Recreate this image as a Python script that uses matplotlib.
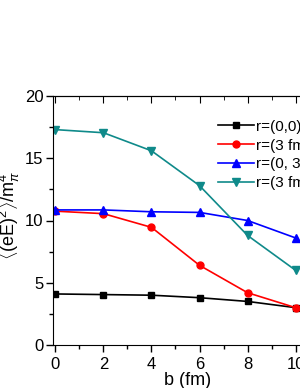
import matplotlib
matplotlib.use("Agg")
import matplotlib.pyplot as plt
from matplotlib.ticker import MultipleLocator

plt.rcParams['font.family'] = ['Liberation Sans', 'DejaVu Sans']
plt.rcParams['mathtext.fontset'] = 'custom'
plt.rcParams['mathtext.rm'] = 'Liberation Sans'
plt.rcParams['mathtext.it'] = 'Liberation Sans:italic'

b = [0, 2, 4, 6, 8, 10]
r00 = [4.1, 4.05, 4.0, 3.8, 3.5, 3.0]
r30 = [10.75, 10.55, 9.45, 6.4, 4.2, 3.0]
r03 = [10.85, 10.85, 10.7, 10.65, 10.0, 8.6]
r33 = [17.3, 17.05, 15.6, 12.8, 8.8, 6.0]
labels = ['r=(0,0)', 'r=(3 fm, 0)', 'r=(0, 3 fm)', 'r=(3 fm, 3 fm)']

fig = plt.figure(figsize=(3.0, 3.88), dpi=100)
ax = fig.add_axes([53 / 300, 43 / 388, 269 / 300, 249 / 388])

ms = 5
ax.plot(b, r00, '-s', color='black', ms=ms, lw=1.2, label=labels[0])
ax.plot(b, r30, '-o', color='red', ms=ms, lw=1.2, label=labels[1])
ax.plot(b, r03, '-^', color='blue', ms=ms + 1, lw=1.2, label=labels[2])
ax.plot(b, r33, '-v', color='#0f8a8a', ms=ms + 1, lw=1.2, label=labels[3])

ax.set_xlim(-0.1, 11.1)
ax.set_ylim(0, 20)
ax.xaxis.set_major_locator(MultipleLocator(2))
ax.xaxis.set_minor_locator(MultipleLocator(1))
ax.yaxis.set_major_locator(MultipleLocator(5))
ax.yaxis.set_minor_locator(MultipleLocator(2.5))
ax.tick_params(which='both', direction='out', labelsize=12, width=1)
ax.tick_params(which='major', length=5)
ax.tick_params(which='minor', length=3)
ax.tick_params(axis='y', pad=2)

top = ax.secondary_xaxis('top')
top.xaxis.set_major_locator(MultipleLocator(2))
top.xaxis.set_minor_locator(MultipleLocator(1))
top.tick_params(which='both', direction='in', labeltop=False)
top.tick_params(which='major', length=5)
top.tick_params(which='minor', length=3)

ax.set_xlabel('b (fm)', fontsize=13, labelpad=0)
ax.set_ylabel(r'$\langle(\mathrm{eE})^2\rangle/\mathrm{m}_\pi^4$', fontsize=13)
ax.yaxis.set_label_coords(-0.115, 0.52)

ax.legend(loc='upper left', bbox_to_anchor=(210 / 300, 1 - 112 / 388),
          bbox_transform=fig.transFigure, frameon=False, fontsize=11,
          handlelength=2.35, labelspacing=0.32, borderpad=0, handletextpad=0.15)

fig.savefig('out.png', dpi=100)
